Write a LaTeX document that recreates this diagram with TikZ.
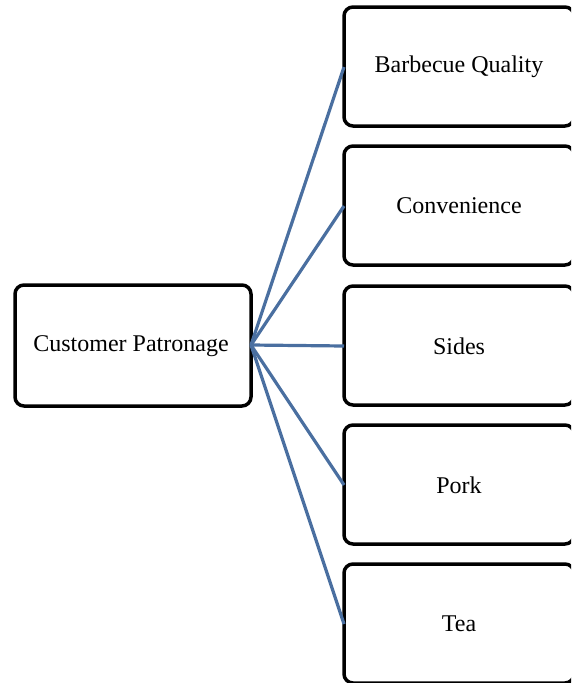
\documentclass[tikz,border=0pt]{standalone}
\usepackage{fontspec}
\setmainfont{Liberation Serif}
\begin{document}
\begin{tikzpicture}[x=1pt,y=-1pt,
  box/.style={draw=black,line width=3.5pt,rounded corners=9pt},
  lbl/.style={font=\fontsize{24}{27}\selectfont,inner sep=0pt},
  conn/.style={draw={rgb,255:red,74;green,111;blue,160},line width=3.2pt}]
\useasboundingbox (0,0) rectangle (571,683);
\clip (0,0) rectangle (571,683);
\draw[box] (15,285) rectangle (251,406);
\node[lbl] (cp) at (131,346) {Customer Patronage};
\coordinate (c) at (251,345);
\foreach \name/\top/\txt in {bq/7/Barbecue Quality, cv/146/Convenience, sd/286/Sides, pk/425/Pork, te/564/Tea}{
  \draw[box] (344,\top) rectangle (574,\top+119);
  \node[lbl] (\name) at (459,\top+60) {\txt};
  \coordinate (\name L) at (344,\top+60);
}
\foreach \name in {bq,cv,sd,pk,te}{\draw[conn] (c) -- (\name L);}
\end{tikzpicture}
\end{document}
